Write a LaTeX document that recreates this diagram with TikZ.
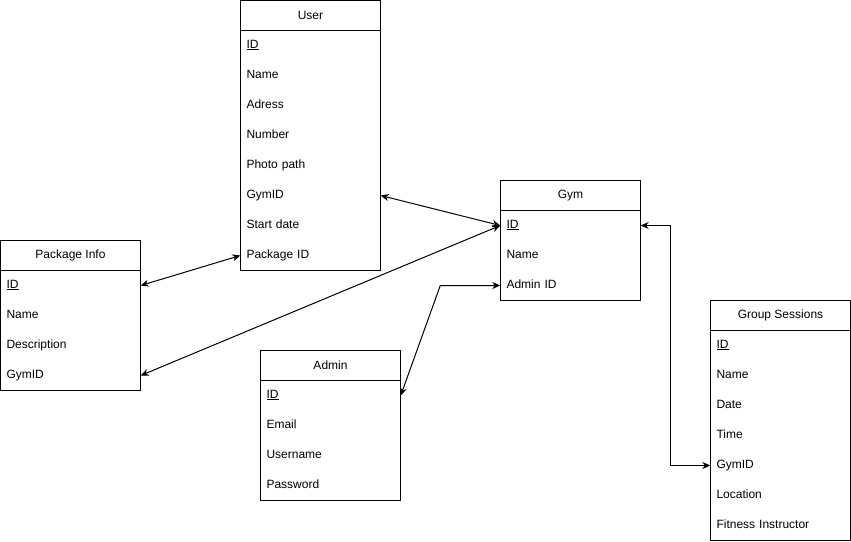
\documentclass[tikz,border=0pt]{standalone}
\usepackage{fontspec}
\setmainfont{Liberation Sans}
\usetikzlibrary{positioning,arrows.meta,calc}

\tikzset{
  hdr/.style={draw, line width=1pt, minimum width=140pt, minimum height=30pt, inner sep=0pt},
  row/.style={minimum height=30pt, text width=128pt, inner sep=6pt, align=left,
              execute at begin node=\rule[-3.5pt]{0pt}{12.1pt}},
  link/.style={line width=1pt, {Stealth[length=8pt,width=7pt,inset=2.5pt]}-{Stealth[length=8pt,width=7pt,inset=2.5pt]}}
}

\begin{document}
\begin{tikzpicture}[x=1pt, y=-1pt, font=\fontsize{12}{14}\selectfont]
        \useasboundingbox (-0.5,-0.5) rectangle (850.5,540.5);
        % User
        \node[hdr] (user) at (310,15) {User};
        \foreach \t [count=\i] in {\underline{ID},Name,Adress,Number,Photo path,GymID,Start date,Package ID}
          \node[row] (user-\i) at (310,15+30*\i) {\t};
        \draw[line width=1pt] (user-1.north west) rectangle (user-8.south east);
        % Package Info
        \node[hdr] (pkg) at (70,255) {Package Info};
        \foreach \t [count=\i] in {\underline{ID},Name,Description,GymID}
          \node[row] (pkg-\i) at (70,255+30*\i) {\t};
        \draw[line width=1pt] (pkg-1.north west) rectangle (pkg-4.south east);
        % Gym
        \node[hdr] (gym) at (570,195) {Gym};
        \foreach \t [count=\i] in {\underline{ID},Name,Admin ID}
          \node[row] (gym-\i) at (570,195+30*\i) {\t};
        \draw[line width=1pt] (gym-1.north west) rectangle (gym-3.south east);
        % Admin
        \node[hdr] (admin) at (330,365) {Admin};
        \foreach \t [count=\i] in {\underline{ID},Email,Username,Password}
          \node[row] (admin-\i) at (330,365+30*\i) {\t};
        \draw[line width=1pt] (admin-1.north west) rectangle (admin-4.south east);
        % Group Sessions
        \node[hdr] (gs) at (780,315) {Group Sessions};
        \foreach \t [count=\i] in {\underline{ID},Name,Date,Time,GymID,Location,Fitness Instructor}
          \node[row] (gs-\i) at (780,315+30*\i) {\t};
        \draw[line width=1pt] (gs-1.north west) rectangle (gs-7.south east);
        % relations
        \draw[link] (user-6.east) -- (gym-1.west);
        \draw[link] (pkg-1.east) -- (user-8.west);
        \draw[link] (pkg-4.east) -- (gym-1.west);
        \draw[link] (admin-1.east) -- ([xshift=-60pt]gym-3.west) -- (gym-3.west);
        \draw[link] (gym-1.east) -- ++(30,0) |- (gs-5.west);
      \end{tikzpicture}
\end{document}
